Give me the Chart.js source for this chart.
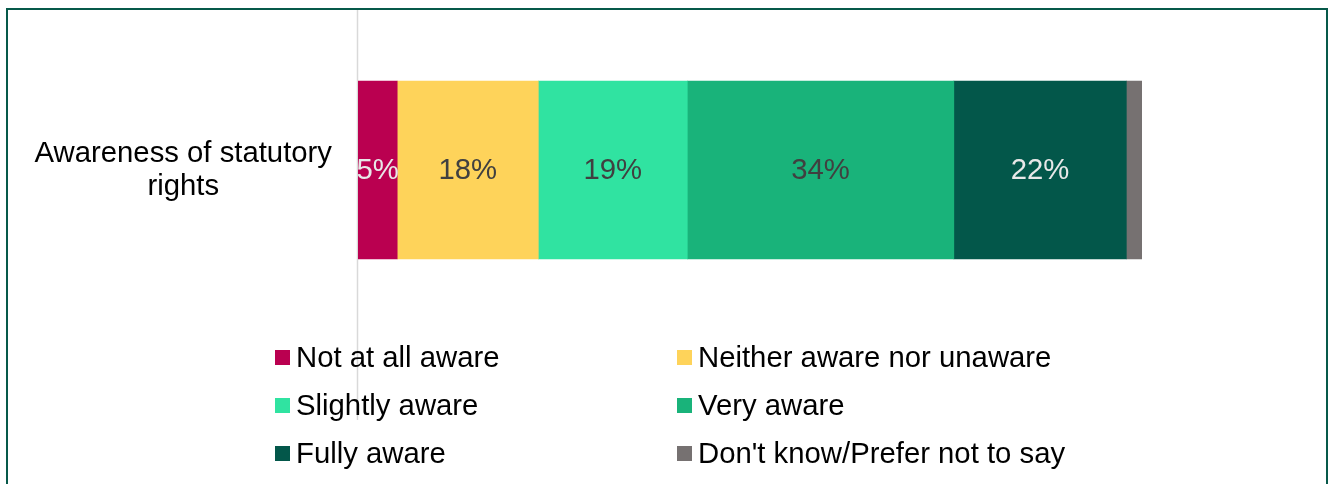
<!DOCTYPE html>
<html>
<head>
<meta charset="utf-8">
<title>Awareness of statutory rights</title>
<script src="https://cdn.jsdelivr.net/npm/chart.js@4.4.1/dist/chart.umd.min.js"></script>
<style>
  html, body { margin: 0; padding: 0; background: #fff; overflow: hidden; }
  #wrap { position: relative; width: 1328px; height: 484px; }
  #frame {
    position: absolute; left: 6px; top: 8px; width: 1322px; height: 520px;
    border: 2px solid #07594a; box-sizing: border-box; pointer-events: none;
  }
  #legend {
    position: absolute; left: 275px; top: 333px; width: 820px;
    display: flex; flex-wrap: wrap;
    font-family: "Liberation Sans", Arial, sans-serif; font-size: 29.3px; color: #000;
  }
  #legend .item { width: 402px; height: 48.2px; display: flex; align-items: center; white-space: nowrap; }
  #legend .box { width: 15px; height: 15px; margin-right: 6px; flex: none; }
</style>
</head>
<body>
<div id="wrap">
  <canvas id="awarenessChart" width="1328" height="484"></canvas>
  <div id="legend"></div>
  <div id="frame"></div>
</div>
<script>
// Survey question and response breakdown (percent)
const categories = [['Awareness of statutory', 'rights']];
const responses = ['Not at all aware', 'Neither aware nor unaware', 'Slightly aware', 'Very aware', 'Fully aware', "Don't know/Prefer not to say"];
const values = [5, 18, 19, 34, 22, 2];
const showLabel = [true, true, true, true, true, false];
const colours = ['#ba0050', '#fed35a', '#30e3a1', '#19b37a', '#03574a', '#767171'];
const labelColours = ['#e8e8e8', '#404040', '#404040', '#404040', '#e8e8e8', '#404040'];

const FONT = '"Liberation Sans", Arial, sans-serif';

// value labels drawn in the middle of each segment, clipped to the plot area
const segmentLabels = {
  id: 'segmentLabels',
  afterDatasetsDraw(chart) {
    const { ctx, chartArea } = chart;
    ctx.save();
    ctx.beginPath();
    ctx.rect(chartArea.left, chartArea.top, chartArea.right - chartArea.left, chartArea.bottom - chartArea.top);
    ctx.clip();
    ctx.font = '29.3px ' + FONT;
    ctx.textAlign = 'center';
    ctx.textBaseline = 'middle';
    chart.data.datasets.forEach((ds, i) => {
      if (!showLabel[i]) return;
      chart.getDatasetMeta(i).data.forEach((bar, j) => {
        ctx.fillStyle = labelColours[i];
        ctx.fillText(ds.data[j] + '%', (bar.x + bar.base) / 2, bar.y + 1);
      });
    });
    ctx.restore();
  }
};

// vertical axis line, runs on down past the plot into the legend area
const axisLine = {
  id: 'axisLine',
  beforeDatasetsDraw(chart, args, opts) {
    const { ctx, chartArea } = chart;
    ctx.save();
    ctx.strokeStyle = '#d9d9d9';
    ctx.lineWidth = 1.5;
    ctx.beginPath();
    ctx.moveTo(chartArea.left - 0.5, chartArea.top);
    ctx.lineTo(chartArea.left - 0.5, chartArea.bottom + opts.extend);
    ctx.stroke();
    ctx.restore();
  }
};

const datasets = responses.map((name, i) => ({
  label: name,
  data: [values[i]],
  backgroundColor: colours[i],
  borderWidth: 0,
  barThickness: 178
}));

new Chart(document.getElementById('awarenessChart'), {
  type: 'bar',
  data: { labels: categories, datasets },
  options: {
    indexAxis: 'y',
    responsive: false,
    animation: false,
    events: [],
    layout: { padding: { left: 32, right: 186, top: 9, bottom: 153 } },
    scales: {
      x: { stacked: true, min: 0, max: 100, display: false },
      y: {
        stacked: true,
        grid: { display: false, drawTicks: false },
        border: { display: false },
        afterFit(scale) {
          scale.width = 326;
          // the label sits inside the plot height, no extra room needed
          scale.paddingTop = 0;
          scale.paddingBottom = 0;
        },
        ticks: {
          crossAlign: 'center',
          padding: 26,
          color: '#000',
          font: { family: FONT, size: 29.3, lineHeight: 1.13 }
        }
      }
    },
    plugins: {
      legend: { display: false },
      tooltip: { enabled: false },
      axisLine: { extend: 89 }
    }
  },
  plugins: [segmentLabels, axisLine]
});

// two-column legend
const legendEl = document.getElementById('legend');
responses.forEach((name, i) => {
  const item = document.createElement('div');
  item.className = 'item';
  const box = document.createElement('span');
  box.className = 'box';
  box.style.background = colours[i];
  const txt = document.createElement('span');
  txt.textContent = name;
  item.appendChild(box);
  item.appendChild(txt);
  legendEl.appendChild(item);
});
</script>
</body>
</html>
